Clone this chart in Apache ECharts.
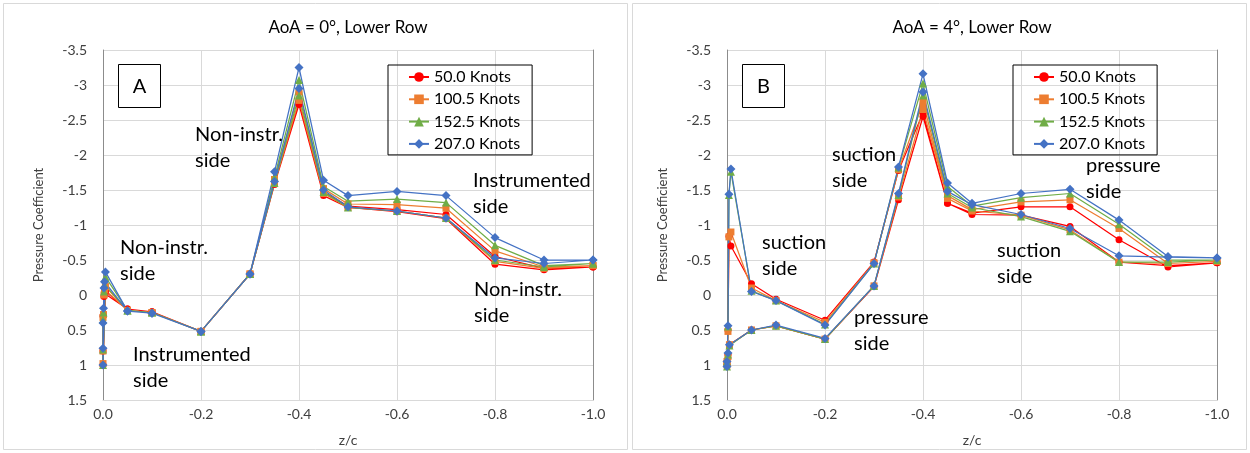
<!DOCTYPE html>
<html><head><meta charset="utf-8">
<script src="https://cdn.jsdelivr.net/npm/echarts@6/dist/echarts.min.js"></script>
<style>html,body{margin:0;padding:0;background:#fff}#c{width:1250px;height:453px}</style>
</head><body><div id="c"></div>
<script>
const seriesNames = ['50.0 Knots', '100.5 Knots', '152.5 Knots', '207.0 Knots'];
const titles = ['AoA = 0°, Lower Row', 'AoA = 4°, Lower Row'];

// Panel A (AoA = 0°): z/c path around the section (TE -> LE -> TE)
const zcA = [-1.0, -0.9, -0.8, -0.7, -0.6, -0.5, -0.45, -0.4, -0.35, -0.3, -0.2, -0.1, -0.05,
  -0.003, -0.002, -0.001, 0, 0, 0, -0.005,
  -0.05, -0.1, -0.2, -0.3, -0.35, -0.4, -0.45, -0.5, -0.6, -0.7, -0.8, -0.9, -1.0];
const cpA_50 = [-0.40, -0.38, -0.55, -1.15, -1.22, -1.27, -1.47, -2.76, -1.62, -0.30, 0.52, 0.24, 0.20,
  -0.02, 0.02, 0.27, 0.30, 0.80, 1.00, -0.05,
  0.20, 0.24, 0.52, -0.30, -1.58, -2.72, -1.42, -1.25, -1.19, -1.09, -0.44, -0.36, -0.40];
const cpA_100 = [-0.42, -0.40, -0.63, -1.24, -1.29, -1.30, -1.52, -2.90, -1.65, -0.30, 0.52, 0.25, 0.22,
  -0.08, 0.00, 0.28, 0.32, 0.80, 0.98, -0.12,
  0.22, 0.25, 0.52, -0.30, -1.60, -2.78, -1.45, -1.25, -1.20, -1.10, -0.48, -0.38, -0.42];
const cpA_152 = [-0.45, -0.42, -0.71, -1.32, -1.37, -1.34, -1.55, -3.07, -1.68, -0.30, 0.52, 0.25, 0.22,
  -0.15, -0.05, 0.25, 0.35, 0.78, 1.00, -0.26,
  0.22, 0.25, 0.52, -0.30, -1.60, -2.85, -1.47, -1.25, -1.20, -1.10, -0.50, -0.40, -0.45];
const cpA_207 = [-0.50, -0.50, -0.82, -1.42, -1.48, -1.42, -1.64, -3.25, -1.76, -0.30, 0.52, 0.26, 0.23,
  -0.19, -0.10, 0.19, 0.40, 0.76, 1.00, -0.33,
  0.23, 0.26, 0.52, -0.30, -1.62, -2.95, -1.50, -1.26, -1.20, -1.10, -0.53, -0.45, -0.50];

// Panel B (AoA = 4°)
const zcB = [-1.0, -0.9, -0.8, -0.7, -0.6, -0.5, -0.45, -0.4, -0.35, -0.3, -0.2, -0.1, -0.05,
  -0.005, -0.002, 0, 0, -0.002, -0.004, -0.008,
  -0.05, -0.1, -0.2, -0.3, -0.35, -0.4, -0.45, -0.5, -0.6, -0.7, -0.8, -0.9, -1.0];
const cpB_50 = [-0.46, -0.42, -0.47, -0.98, -1.14, -1.15, -1.31, -2.55, -1.36, -0.12, 0.63, 0.44, 0.50,
  0.71, 0.85, 0.95, 1.00, 0.50, -0.84, -0.70,
  -0.16, 0.06, 0.36, -0.47, -1.78, -2.60, -1.31, -1.17, -1.26, -1.26, -0.79, -0.40, -0.46];
const cpB_100 = [-0.48, -0.45, -0.47, -0.93, -1.14, -1.20, -1.38, -2.65, -1.40, -0.13, 0.63, 0.44, 0.50,
  0.71, 0.88, 0.95, 1.00, 0.52, -0.83, -0.90,
  -0.10, 0.08, 0.39, -0.46, -1.79, -2.75, -1.42, -1.22, -1.33, -1.36, -0.95, -0.45, -0.48];
const cpB_152 = [-0.50, -0.47, -0.47, -0.91, -1.12, -1.25, -1.45, -2.85, -1.43, -0.13, 0.63, 0.44, 0.50,
  0.72, 0.85, 0.95, 1.02, 0.45, -1.43, -1.76,
  -0.06, 0.08, 0.42, -0.45, -1.82, -3.02, -1.55, -1.27, -1.39, -1.45, -1.01, -0.50, -0.50];
const cpB_207 = [-0.53, -0.54, -0.56, -0.95, -1.15, -1.29, -1.48, -2.90, -1.45, -0.13, 0.62, 0.43, 0.50,
  0.71, 0.83, 0.95, 1.02, 0.44, -1.44, -1.80,
  -0.05, 0.08, 0.43, -0.45, -1.83, -3.16, -1.60, -1.31, -1.45, -1.51, -1.07, -0.55, -0.53];

const colors = ['#FF0000', '#ED7D31', '#70AD47', '#4472C4'];
const symbols = ['circle', 'rect', 'triangle', 'diamond'];
const symSizes = [7, 7, 8, 9];

const FONT = 'Lato, "Noto Sans", sans-serif';
const grids = [
  { left: 103, top: 50, width: 490, height: 350 },
  { left: 727, top: 50, width: 490, height: 350 }
];

function pairs(xs, ys) { return xs.map((x, i) => [x, ys[i]]); }

const setsA = [cpA_50, cpA_100, cpA_152, cpA_207];
const setsB = [cpB_50, cpB_100, cpB_152, cpB_207];
const series = [];
[[zcA, setsA, 0], [zcB, setsB, 1]].forEach(([xs, sets, gi]) => {
  sets.forEach((ys, k) => {
    series.push({
      type: 'line', name: seriesNames[k], xAxisIndex: gi, yAxisIndex: gi * 2,
      data: pairs(xs, ys), symbol: symbols[k], symbolSize: symSizes[k],
      lineStyle: { color: colors[k], width: 1.25 },
      itemStyle: { color: colors[k] }, showAllSymbol: true, animation: false
    });
  });
});

function xAxis(gi) {
  return {
    type: 'value', gridIndex: gi, min: -1, max: 0, interval: 0.2, inverse: true,
    name: 'z/c', nameLocation: 'middle', nameGap: 33,
    nameTextStyle: { fontFamily: FONT, fontSize: 14, color: '#404040' },
    axisLine: { show: true, onZero: false, lineStyle: { color: '#d9d9d9' } },
    axisTick: { show: false },
    axisLabel: { fontFamily: FONT, fontSize: 14, color: '#404040', margin: 7,
      formatter: v => (Math.abs(v) < 1e-9 ? 0 : v).toFixed(1) },
    splitLine: { show: true, lineStyle: { color: '#d9d9d9' } }
  };
}
function yAxis(gi) {
  return {
    type: 'value', gridIndex: gi, min: -3.5, max: 1.5, interval: 0.5, inverse: true,
    name: 'Pressure Coefficient', nameLocation: 'middle', nameGap: 58,
    nameTextStyle: { fontFamily: FONT, fontSize: 13, color: '#404040' },
    axisLine: { show: true, onZero: false, lineStyle: { color: '#8c8c8c' } },
    axisTick: { show: false },
    axisLabel: { fontFamily: FONT, fontSize: 14, color: '#404040', margin: 16,
      formatter: v => String(Math.round(v * 10) / 10) },
    splitLine: { show: true, lineStyle: { color: '#d9d9d9' } }
  };
}
function yAxisRight(gi) {
  return {
    type: 'value', gridIndex: gi, min: -3.5, max: 1.5, interval: 0.5, inverse: true, position: 'right',
    axisLine: { show: true, onZero: false, lineStyle: { color: '#8c8c8c' } },
    axisTick: { show: false }, axisLabel: { show: false }, splitLine: { show: false }
  };
}

function legend(left) {
  return {
    left: left, top: 65, orient: 'vertical', data: seriesNames,
    borderColor: '#000', borderWidth: 1, padding: [4, 12, 3, 20],
    itemWidth: 20, itemHeight: 12, itemGap: 6.3,
    textStyle: { fontFamily: FONT, fontSize: 16, color: '#000', lineHeight: 16 }
  };
}

const annoStyle = { font: '20px ' + FONT, fill: '#000', lineHeight: 25.5 };
function anno(text, x, yCenter1) {
  return { type: 'text', style: Object.assign({ text: text, x: x, y: yCenter1 - 12.75 }, annoStyle), z: 100 };
}
const annotations = [
  ['Non-instr.\nside', 195, 135], ['Non-instr.\nside', 120, 248], ['Instrumented\nside', 133, 355],
  ['Instrumented\nside', 473, 181], ['Non-instr.\nside', 474, 290],
  ['suction\nside', 832, 155], ['suction\nside', 762, 243], ['pressure\nside', 854, 318],
  ['pressure\nside', 1086, 166], ['suction\nside', 997, 251]
];

const graphic = [
  { type: 'rect', shape: { x: 3.5, y: 3.5, width: 624, height: 446 }, style: { fill: 'none', stroke: '#d9d9d9', lineWidth: 1 }, z: -10 },
  { type: 'rect', shape: { x: 632.5, y: 3.5, width: 614, height: 446 }, style: { fill: 'none', stroke: '#d9d9d9', lineWidth: 1 }, z: -10 },
  { type: 'text', style: { text: titles[0], x: 348, y: 28, align: 'center', verticalAlign: 'middle', font: '17px ' + FONT, fill: '#000' } },
  { type: 'text', style: { text: titles[1], x: 972, y: 28, align: 'center', verticalAlign: 'middle', font: '17px ' + FONT, fill: '#000' } },
  { type: 'rect', shape: { x: 118.5, y: 64.5, width: 42, height: 43 }, style: { fill: '#fff', stroke: '#000', lineWidth: 1 }, z: 90 },
  { type: 'text', style: { text: 'A', x: 139.5, y: 86.5, align: 'center', verticalAlign: 'middle', font: '20px ' + FONT, fill: '#000' }, z: 91 },
  { type: 'rect', shape: { x: 742.5, y: 64.5, width: 42, height: 43 }, style: { fill: '#fff', stroke: '#000', lineWidth: 1 }, z: 90 },
  { type: 'text', style: { text: 'B', x: 763.5, y: 86.5, align: 'center', verticalAlign: 'middle', font: '20px ' + FONT, fill: '#000' }, z: 91 }
].concat(annotations.map(a => anno(a[0], a[1], a[2])));

const chart = echarts.init(document.getElementById('c'), null, { renderer: 'canvas' });
chart.setOption({
  backgroundColor: '#fff',
  animation: false,
  grid: grids,
  xAxis: [xAxis(0), xAxis(1)],
  yAxis: [yAxis(0), yAxisRight(0), yAxis(1), yAxisRight(1)],
  legend: [legend(388), legend(1013)],
  series: series,
  graphic: graphic
});
</script></body></html>
